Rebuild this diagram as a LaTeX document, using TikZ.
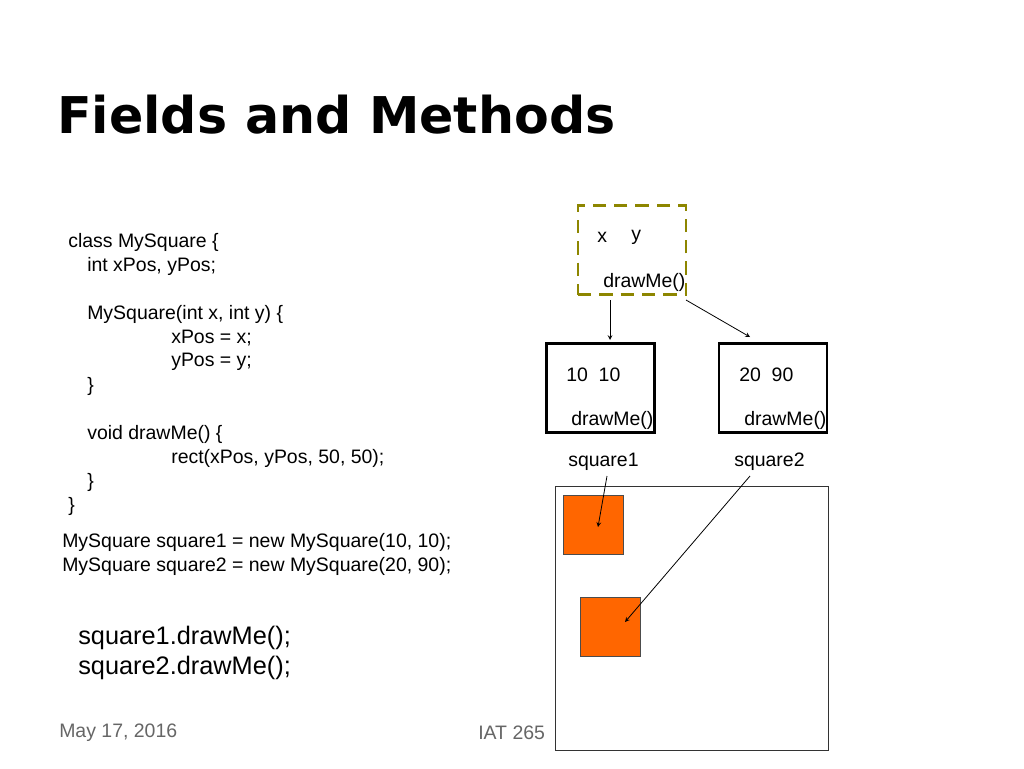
\documentclass[tikz,border=0pt]{standalone}
\usepackage{fontspec}
\setmainfont{Liberation Sans}
\newfontfamily\titlefont{DejaVu Sans}
\begin{document}
\begin{tikzpicture}[x=0.75pt,y=-0.75pt,
  code/.style={anchor=west,inner sep=0pt,font=\fontsize{14.6}{16}\selectfont},
  obj/.style={draw,line width=2pt,minimum width=81pt,minimum height=67pt},
  arr/.style={-stealth,line width=0.6pt}]
\useasboundingbox (0,0) rectangle (1024,768);
\fill[white] (0,0) rectangle (1024,768);
\node[anchor=west,inner sep=0pt,font=\titlefont\fontsize{38}{42}\bfseries] (title) at (57,115) {Fields and Methods};
\foreach \t/\xx/\yy [count=\i] in {{class MySquare \{}/68/241,{int xPos, yPos;}/87/265,{MySquare(int x, int y) \{}/87/313,{xPos = x;}/171/337,{yPos = y;}/171/361,{\}}/87/385,{void drawMe() \{}/87/433,{rect(xPos, yPos, 50, 50);}/171/457,{\}}/87/481,{\}}/68/505,{MySquare square1 = new MySquare(10, 10);}/62/541,{MySquare square2 = new MySquare(20, 90);}/62/565}
  \node[code] (c\i) at (\xx,\yy+1) {\t};
\node[code,font=\fontsize{19}{22}\selectfont] (d1) at (78,638) {square1.drawMe();};
\node[code,font=\fontsize{19}{22}\selectfont] (d2) at (78,668) {square2.drawMe();};
\node[code,text=gray!80!black] (date) at (59,733) {May 17, 2016};
\node[code,text=gray!80!black] (iat) at (478,733) {IAT 265};
% class box
\node[draw=olive,dashed,dash pattern=on 10pt off 6pt,line width=2.2pt,minimum width=81pt,minimum height=67pt] (cls) at (632,250) {};
\node[code] (cx) at (597,237) {x};
\node[code] (cy) at (631,237) {y};
\node[code] (cd) at (603,282) {drawMe()};
% objects
\node[obj] (o1) at (600.5,388) {};
\node[obj] (o2) at (773,388) {};
\node[code] (o1a) at (566,375) {10\ \ 10};
\node[code] (o1b) at (571,420) {drawMe()};
\node[code] (o2a) at (739,375) {20\ \ 90};
\node[code] (o2b) at (744,420) {drawMe()};
\node[code] (s1) at (568,462) {square1};
\node[code] (s2) at (734,462) {square2};
\coordinate (a1) at (610,300); \coordinate (b1) at (610,340);
\coordinate (a2) at (686,300); \coordinate (b2) at (750,337);
\draw[arr] (a1) -- (b1);
\draw[arr] (a2) -- (b2);
% canvas
\draw[line width=0.6pt,draw=black!80] (555,486) rectangle (828,750);
\node[draw=black!70,fill={rgb,255:red,255;green,102;blue,0},minimum width=45pt,minimum height=44pt,inner sep=0pt] (q1) at (593,524.5) {};
\node[draw=black!70,fill={rgb,255:red,255;green,102;blue,0},minimum width=45pt,minimum height=44pt,inner sep=0pt] (q2) at (610,627) {};
\coordinate (e1) at (607,476); \coordinate (e2) at (750,476);
\draw[arr] (e1) -- (598,527);
\draw[arr] (e2) -- (625,622);
\end{tikzpicture}
\end{document}
